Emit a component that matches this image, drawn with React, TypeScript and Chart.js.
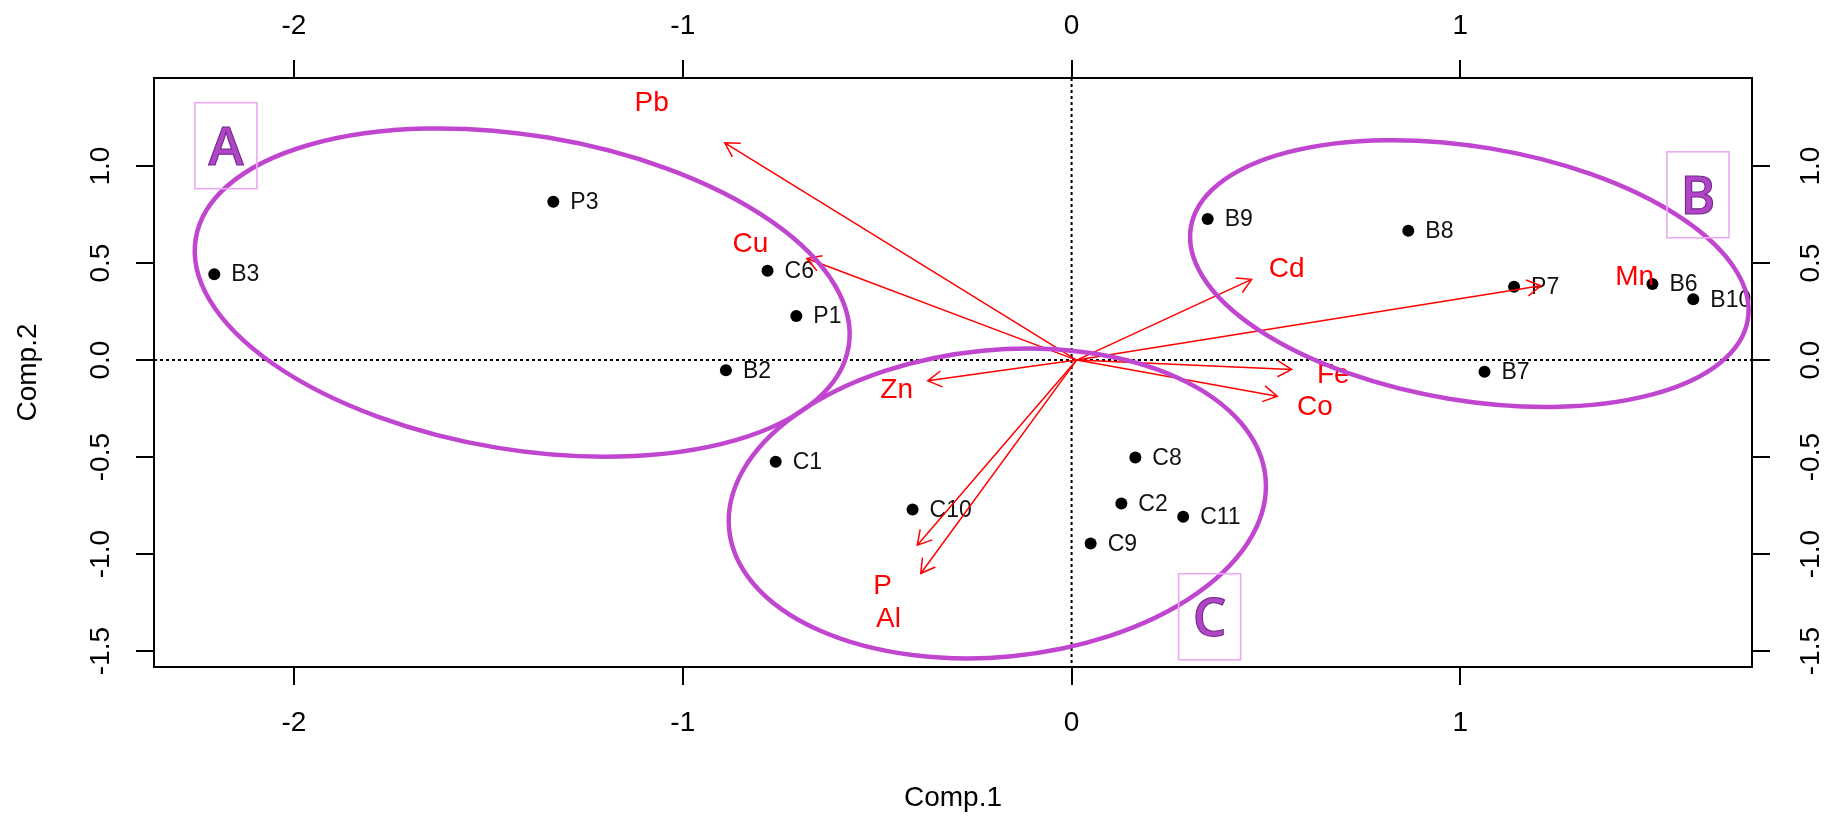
import React, { useEffect, useRef } from 'react';
import { Chart, registerables } from 'chart.js';

Chart.register(...registerables);

// ---------- data ----------
const SAMPLE_NAMES = ['B3', 'P3', 'C6', 'P1', 'B2', 'B9', 'B8', 'P7', 'B6', 'B10', 'B7', 'C1', 'C10', 'C8', 'C2', 'C11', 'C9'];
const COMP1 = [-2.205, -1.333, -0.782, -0.708, -0.889, 0.35, 0.866, 1.138, 1.494, 1.599, 1.062, -0.761, -0.409, 0.164, 0.128, 0.287, 0.049];
const COMP2 = [0.443, 0.816, 0.46, 0.227, -0.052, 0.727, 0.667, 0.378, 0.392, 0.313, -0.06, -0.524, -0.77, -0.502, -0.739, -0.808, -0.945];

const VARIABLES = ['Pb', 'Cu', 'Cd', 'Mn', 'Fe', 'Co', 'Zn', 'P', 'Al'];
const LOAD1 = [-0.892, -0.681, 0.463, 1.207, 0.566, 0.529, -0.37, -0.397, -0.388];
const LOAD2 = [1.12, 0.524, 0.416, 0.383, -0.048, -0.186, -0.107, -0.954, -1.1];
const VAR_LABEL_X = [-1.08, -0.826, 0.553, 1.448, 0.673, 0.626, -0.45, -0.486, -0.471];
const VAR_LABEL_Y = [1.327, 0.602, 0.473, 0.432, -0.074, -0.237, -0.151, -1.16, -1.332];
const ARROW_ORIGIN = [0.013, 0.0];

const X_TICKS = [-2, -1, 0, 1];
const Y_TICKS = [-1.5, -1.0, -0.5, 0.0, 0.5, 1.0];
const X_RANGE = [-2.36, 1.75];
const Y_RANGE = [-1.582, 1.454];

const X_TITLE = 'Comp.1';
const Y_TITLE = 'Comp.2';

const GROUPS = ['A', 'B', 'C'];
const GROUP_CX = [-1.413, 1.023, -0.191];
const GROUP_CY = [0.348, 0.446, -0.739];
const GROUP_RX = [0.851, 0.726, 0.693];
const GROUP_RY = [0.81, 0.654, 0.791];
const GROUP_TILT = [9.4, 9.4, -5.5];
const GROUP_TAG_X = [-2.175, 1.611, 0.355];
const GROUP_TAG_Y = [1.105, 0.852, -1.323];

// ---------- styles ----------
const FONT = '"Liberation Sans", Arial, sans-serif';
const AXIS_FONT_SIZE = 28;
const POINT_FONT_SIZE = 23;
const VAR_FONT_SIZE = 28;
const RED = '#FF0000';
const PURPLE = '#C046D0';

const overlayPlugin = {
  id: 'biplotOverlay',
  beforeDatasetsDraw(chart: any) {
    const { ctx, chartArea, scales } = chart;
    const x = scales.x;
    const y = scales.y;
    ctx.save();
    ctx.strokeStyle = '#000';
    ctx.lineWidth = 2;
    ctx.setLineDash([3, 3]);
    const x0 = x.getPixelForValue(0);
    const y0 = y.getPixelForValue(0);
    ctx.beginPath();
    ctx.moveTo(x0, chartArea.top);
    ctx.lineTo(x0, chartArea.bottom);
    ctx.moveTo(chartArea.left, y0);
    ctx.lineTo(chartArea.right, y0);
    ctx.stroke();
    ctx.restore();
  },
  afterDatasetsDraw(chart: any) {
    const { ctx, scales } = chart;
    const x = scales.x;
    const y = scales.y;
    ctx.save();
    // sample labels
    ctx.fillStyle = '#111';
    ctx.font = `${POINT_FONT_SIZE}px ${FONT}`;
    ctx.textAlign = 'left';
    ctx.textBaseline = 'middle';
    SAMPLE_NAMES.forEach((n, i) => {
      ctx.fillText(n, x.getPixelForValue(COMP1[i]) + 17, y.getPixelForValue(COMP2[i]) + 1);
    });
    // arrows
    const ox = x.getPixelForValue(ARROW_ORIGIN[0]);
    const oy = y.getPixelForValue(ARROW_ORIGIN[1]);
    ctx.strokeStyle = RED;
    ctx.lineWidth = 1.5;
    const head = 16;
    const ang = (30 * Math.PI) / 180;
    VARIABLES.forEach((v, i) => {
      const tx = x.getPixelForValue(LOAD1[i]);
      const ty = y.getPixelForValue(LOAD2[i]);
      const a = Math.atan2(ty - oy, tx - ox);
      ctx.beginPath();
      ctx.moveTo(ox, oy);
      ctx.lineTo(tx, ty);
      ctx.moveTo(tx - head * Math.cos(a - ang), ty - head * Math.sin(a - ang));
      ctx.lineTo(tx, ty);
      ctx.lineTo(tx - head * Math.cos(a + ang), ty - head * Math.sin(a + ang));
      ctx.stroke();
    });
    ctx.fillStyle = RED;
    ctx.font = `${VAR_FONT_SIZE}px ${FONT}`;
    ctx.textAlign = 'center';
    ctx.textBaseline = 'middle';
    VARIABLES.forEach((v, i) => {
      ctx.fillText(v, x.getPixelForValue(VAR_LABEL_X[i]), y.getPixelForValue(VAR_LABEL_Y[i]) + 1);
    });
    // group ellipses
    const pxX = x.getPixelForValue(1) - x.getPixelForValue(0);
    const pxY = y.getPixelForValue(0) - y.getPixelForValue(1);
    ctx.strokeStyle = PURPLE;
    ctx.lineWidth = 4.5;
    GROUPS.forEach((g, i) => {
      ctx.beginPath();
      ctx.ellipse(
        x.getPixelForValue(GROUP_CX[i]),
        y.getPixelForValue(GROUP_CY[i]),
        GROUP_RX[i] * pxX,
        GROUP_RY[i] * pxY,
        (GROUP_TILT[i] * Math.PI) / 180,
        0,
        Math.PI * 2
      );
      ctx.stroke();
    });
    // group tags
    const bw = 62;
    const bh = 86;
    GROUPS.forEach((g, i) => {
      const cx = x.getPixelForValue(GROUP_TAG_X[i]);
      const cy = y.getPixelForValue(GROUP_TAG_Y[i]);
      ctx.strokeStyle = '#EBA9F4';
      ctx.lineWidth = 1.6;
      ctx.strokeRect(cx - bw / 2, cy - bh / 2, bw, bh);
      ctx.font = `600 53px "Open Sans", ${FONT}`;
      ctx.textAlign = 'center';
      ctx.textBaseline = 'alphabetic';
      ctx.fillStyle = '#B244C8';
      ctx.fillText(g, cx, cy + 19);
      ctx.strokeStyle = '#6E2A88';
      ctx.lineWidth = 1.1;
      ctx.strokeText(g, cx, cy + 19);
    });
    ctx.restore();
  },
};

function axisCommon() {
  return {
    type: 'linear' as const,
    grid: { drawOnChartArea: false, drawTicks: true, tickLength: 18, color: '#000', lineWidth: 2 },
    border: { display: true, color: '#000', width: 2 },
  };
}

export default function App() {
  const ref = useRef<HTMLCanvasElement>(null);
  useEffect(() => {
    document.body.style.margin = '0';
    const tickFont = { family: FONT, size: AXIS_FONT_SIZE };
    const chart = new Chart(ref.current as HTMLCanvasElement, {
      type: 'scatter',
      data: {
        datasets: [
          {
            data: COMP1.map((v, i) => ({ x: v, y: COMP2[i] })),
            pointRadius: 6,
            pointHoverRadius: 6,
            pointBackgroundColor: '#000',
            pointBorderWidth: 0,
            showLine: false,
          },
        ],
      },
      plugins: [overlayPlugin],
      options: {
        animation: false,
        responsive: false,
        devicePixelRatio: 1,
        layout: { padding: 0 },
        plugins: { legend: { display: false }, tooltip: { enabled: false } },
        events: [],
        scales: {
          x: {
            ...axisCommon(),
            position: 'bottom',
            min: X_RANGE[0],
            max: X_RANGE[1],
            afterBuildTicks: (s: any) => { s.ticks = X_TICKS.map((v) => ({ value: v })); },
            afterFit: (s: any) => { s.height = 152; },
            ticks: { font: tickFont, color: '#000', padding: 21, callback: (v: any) => String(v) },
            title: { display: true, text: X_TITLE, font: tickFont, color: '#000', padding: { top: 0, bottom: 4 } },
          },
          x2: {
            ...axisCommon(),
            position: 'top',
            min: X_RANGE[0],
            max: X_RANGE[1],
            afterBuildTicks: (s: any) => { s.ticks = X_TICKS.map((v) => ({ value: v })); },
            afterFit: (s: any) => { s.height = 78; },
            ticks: { font: tickFont, color: '#000', padding: 17, callback: (v: any) => String(v) },
          },
          y: {
            ...axisCommon(),
            position: 'left',
            min: Y_RANGE[0],
            max: Y_RANGE[1],
            afterBuildTicks: (s: any) => { s.ticks = Y_TICKS.map((v) => ({ value: v })); },
            afterFit: (s: any) => { s.width = 154; },
            ticks: { font: tickFont, color: '#000', padding: 11, minRotation: 90, maxRotation: 90, crossAlign: 'center', callback: (v: any) => Number(v).toFixed(1) },
            title: { display: true, text: Y_TITLE, font: tickFont, color: '#000', padding: { top: 11, bottom: 0 } },
          },
          y2: {
            ...axisCommon(),
            position: 'right',
            min: Y_RANGE[0],
            max: Y_RANGE[1],
            afterBuildTicks: (s: any) => { s.ticks = Y_TICKS.map((v) => ({ value: v })); },
            afterFit: (s: any) => { s.width = 88; },
            ticks: { font: tickFont, color: '#000', padding: 17, minRotation: 90, maxRotation: 90, crossAlign: 'center', callback: (v: any) => Number(v).toFixed(1) },
          },
        },
      } as any,
    });
    return () => chart.destroy();
  }, []);
  return (
    <div style={{ position: 'absolute', left: 0, top: 0, width: 1840, height: 819, background: '#fff' }}>
      <canvas ref={ref} width={1840} height={819} style={{ display: 'block', width: 1840, height: 819 }} />
    </div>
  );
}
